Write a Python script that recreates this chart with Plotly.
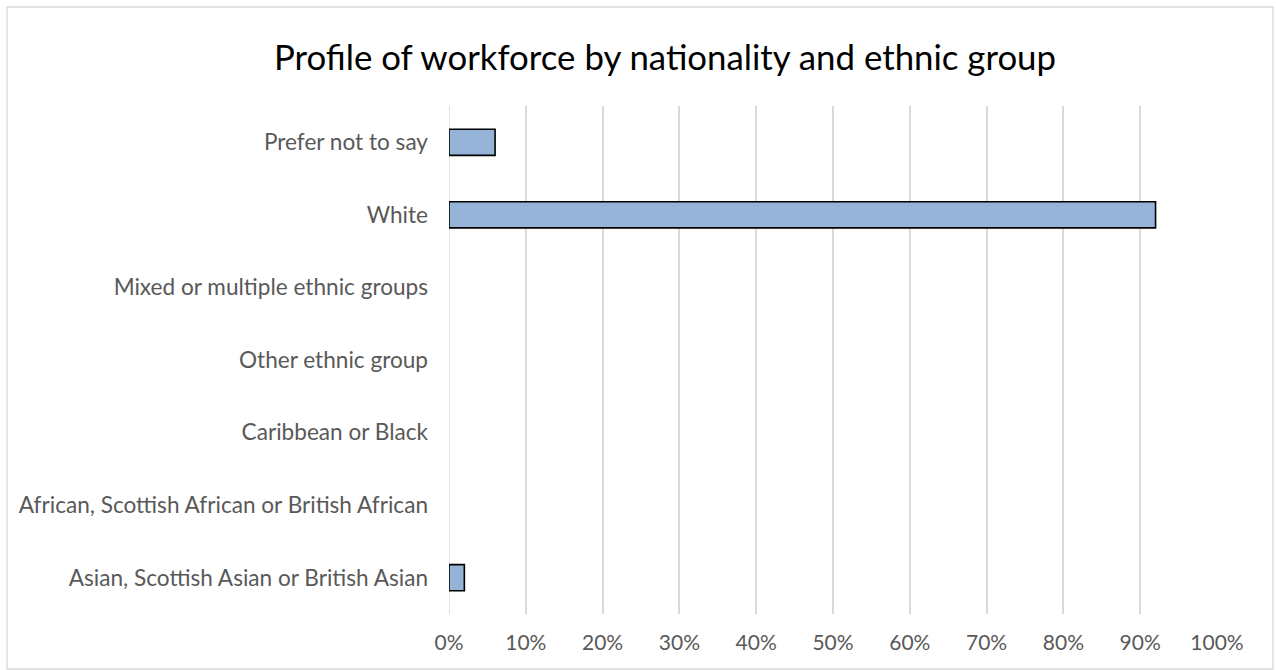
import plotly.graph_objects as go

categories = [
    "Asian, Scottish Asian or British Asian",
    "African, Scottish African or British African",
    "Caribbean or Black",
    "Other ethnic group",
    "Mixed or multiple ethnic groups",
    "White",
    "Prefer not to say",
]
values = [0.02, 0.0, 0.0, 0.0, 0.0, 0.92, 0.06]
tick_vals = [0, 0.1, 0.2, 0.3, 0.4, 0.5, 0.6, 0.7, 0.8, 0.9, 1.0]
tick_text = ["0%", "10%", "20%", "30%", "40%", "50%", "60%", "70%", "80%", "90%", "100%"]
title = "Profile of workforce by nationality and ethnic group"

outline_widths = [1.6 if v > 0 else 0 for v in values]

fig = go.Figure(
    go.Bar(
        x=values,
        y=categories,
        orientation="h",
        marker=dict(color="#95b3d7", line=dict(color="#000000", width=outline_widths)),
    )
)

fig.update_layout(
    width=1276,
    height=670,
    paper_bgcolor="white",
    plot_bgcolor="white",
    margin=dict(l=449, r=59, t=106, b=56),
    bargap=0.64,
    showlegend=False,
    title=dict(
        text=title,
        x=665 / 1276,
        xanchor="center",
        y=1 - 58 / 670,
        yanchor="middle",
        font=dict(family="Lato, Carlito, Calibri, sans-serif", size=34.8, color="#000000"),
    ),
    font=dict(family="Lato, Carlito, Calibri, sans-serif"),
)

fig.update_xaxes(
    range=[0, 1.0],
    tickvals=tick_vals,
    ticktext=tick_text,
    showgrid=True,
    gridcolor="#d9d9d9",
    gridwidth=1.5,
    zeroline=False,
    showline=False,
    ticks="",
    tickfont=dict(size=21, color="#595959"),
    ticklabelstandoff=14,
)
fig.update_yaxes(
    categoryorder="array",
    categoryarray=categories,
    showgrid=False,
    zeroline=False,
    showline=False,
    ticks="",
    tickfont=dict(size=22.6, color="#595959"),
    ticklabelstandoff=20,
)

fig.add_shape(
    type="line", xref="x", yref="paper", x0=0, x1=0, y0=0, y1=1,
    line=dict(color="#d9d9d9", width=1.5), layer="below",
)
fig.add_shape(
    type="rect", xref="paper", yref="paper",
    x0=-442 / 768, x1=1 + 56 / 768, y0=-55 / 508, y1=1 + 99 / 508,
    line=dict(color="#d9d9d9", width=1.3), layer="below",
)

fig.write_html(
    "out.html",
    config={"displayModeBar": False},
    post_script="document.body.style.margin='0';document.body.style.overflow='hidden';",
)
